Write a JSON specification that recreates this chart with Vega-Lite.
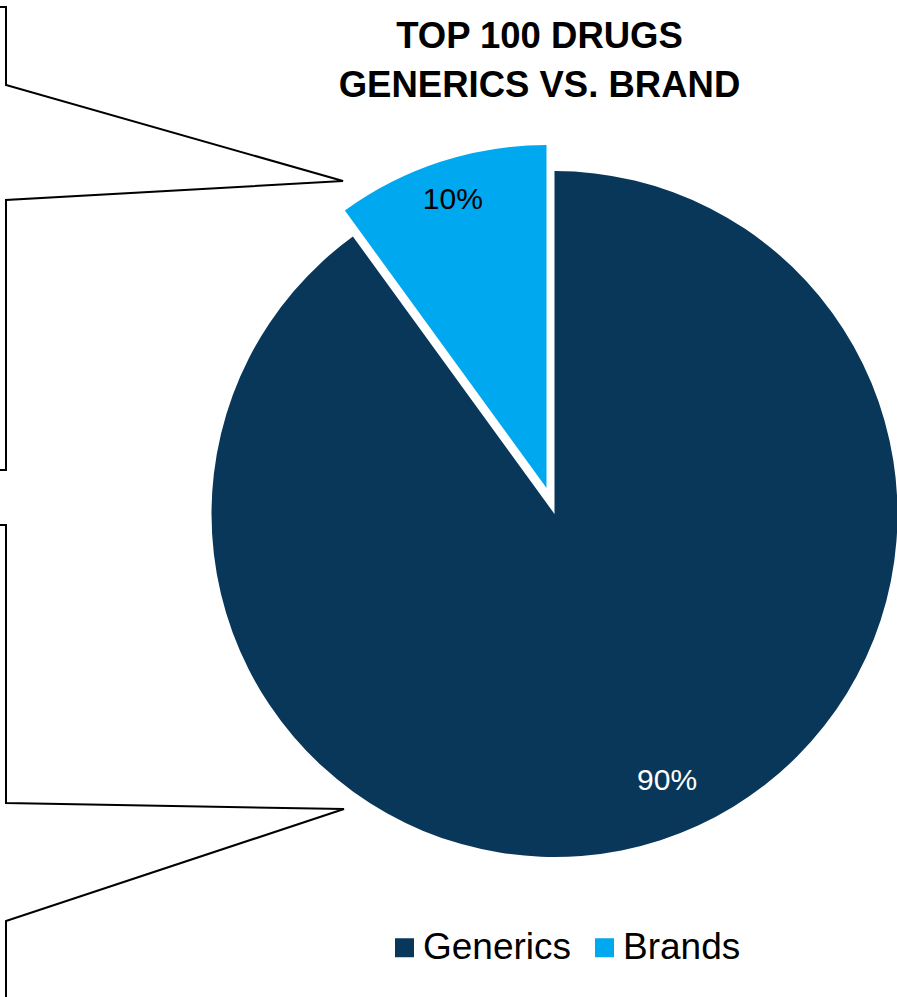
{
  "$schema": "https://vega.github.io/schema/vega-lite/v6.json",
  "autosize": {"type": "none"},
  "width": 685,
  "height": 686,
  "padding": {"left": 212, "top": 171, "right": 0, "bottom": 140},
  "background": "white",
  "config": {"view": {"stroke": null}},
  "title": {
    "text": ["TOP 100 DRUGS", "GENERICS VS. BRAND"],
    "font": "Liberation Sans",
    "fontSize": 36.5,
    "fontWeight": "bold",
    "lineHeight": 49,
    "color": "black",
    "anchor": "middle",
    "dx": -15,
    "dy": 101,
    "offset": 0
  },
  "layer": [
    {
      "data": {"values": [
        {"category": "Generics", "share": 0.9},
        {"category": "Brands", "share": 0.1}
      ]},
      "layer": [
        {
          "mark": {"type": "arc", "radius": 343},
          "encoding": {
            "theta": {"field": "share", "type": "quantitative", "stack": true},
            "order": {"field": "share", "sort": "descending"},
            "color": {
              "field": "category", "type": "nominal",
              "scale": {"domain": ["Generics", "Brands"], "range": ["#09375A", "#00A8F0"]},
              "legend": {
                "title": null, "orient": "none", "legendX": 174, "legendY": 758,
                "direction": "horizontal", "columns": 2,
                "symbolType": "square", "symbolSize": 361, "symbolStrokeWidth": 0,
                "labelFont": "Liberation Sans", "labelFontSize": 37, "labelColor": "black",
                "labelOffset": 0, "columnPadding": 14, "labelLimit": 400
              }
            },
            "fillOpacity": {"condition": {"test": "datum.category === 'Brands'", "value": 0}, "value": 1}
          }
        },
        {
          "mark": {"type": "arc", "radius": 343, "xOffset": -8, "yOffset": -26},
          "encoding": {
            "theta": {"field": "share", "type": "quantitative", "stack": true},
            "order": {"field": "share", "sort": "descending"},
            "color": {"field": "category", "type": "nominal"},
            "fillOpacity": {"condition": {"test": "datum.category === 'Generics'", "value": 0}, "value": 1}
          }
        },
        {
          "mark": {"type": "text", "radius": 303, "xOffset": -8, "yOffset": -26, "font": "Liberation Sans", "fontSize": 30, "color": "black", "baseline": "middle", "align": "center"},
          "encoding": {
            "theta": {"field": "share", "type": "quantitative", "stack": true},
            "order": {"field": "share", "sort": "descending"},
            "text": {"field": "share", "type": "quantitative", "format": ".0%"},
            "opacity": {"condition": {"test": "datum.category === 'Generics'", "value": 0}, "value": 1}
          }
        },
        {
          "mark": {"type": "text", "radius": 290, "xOffset": 23, "yOffset": -9, "font": "Liberation Sans", "fontSize": 30, "color": "white", "baseline": "middle", "align": "center"},
          "encoding": {
            "theta": {"field": "share", "type": "quantitative", "stack": true},
            "order": {"field": "share", "sort": "descending"},
            "text": {"field": "share", "type": "quantitative", "format": ".0%"},
            "opacity": {"condition": {"test": "datum.category === 'Brands'", "value": 0}, "value": 1}
          }
        }
      ]
    },
    {
      "data": {"values": [
        {"shape": "A", "i": 1, "px": 0, "py": 7},
        {"shape": "A", "i": 2, "px": 6, "py": 7},
        {"shape": "A", "i": 3, "px": 6, "py": 85},
        {"shape": "A", "i": 4, "px": 343, "py": 181},
        {"shape": "A", "i": 5, "px": 6, "py": 200},
        {"shape": "A", "i": 6, "px": 6, "py": 470},
        {"shape": "A", "i": 7, "px": 0, "py": 470},
        {"shape": "B", "i": 1, "px": 0, "py": 525},
        {"shape": "B", "i": 2, "px": 6, "py": 525},
        {"shape": "B", "i": 3, "px": 6, "py": 803},
        {"shape": "B", "i": 4, "px": 344, "py": 809},
        {"shape": "B", "i": 5, "px": 6, "py": 921},
        {"shape": "B", "i": 6, "px": 6, "py": 1000}
      ]},
      "mark": {"type": "line", "color": "black", "strokeWidth": 2, "strokeJoin": "miter"},
      "encoding": {
        "x": {"field": "px", "type": "quantitative", "scale": {"domain": [212, 897], "zero": false, "nice": false}, "axis": null},
        "y": {"field": "py", "type": "quantitative", "scale": {"domain": [171, 857], "zero": false, "nice": false, "reverse": true}, "axis": null},
        "detail": {"field": "shape", "type": "nominal"},
        "order": {"field": "i", "type": "quantitative"}
      }
    }
  ]
}
